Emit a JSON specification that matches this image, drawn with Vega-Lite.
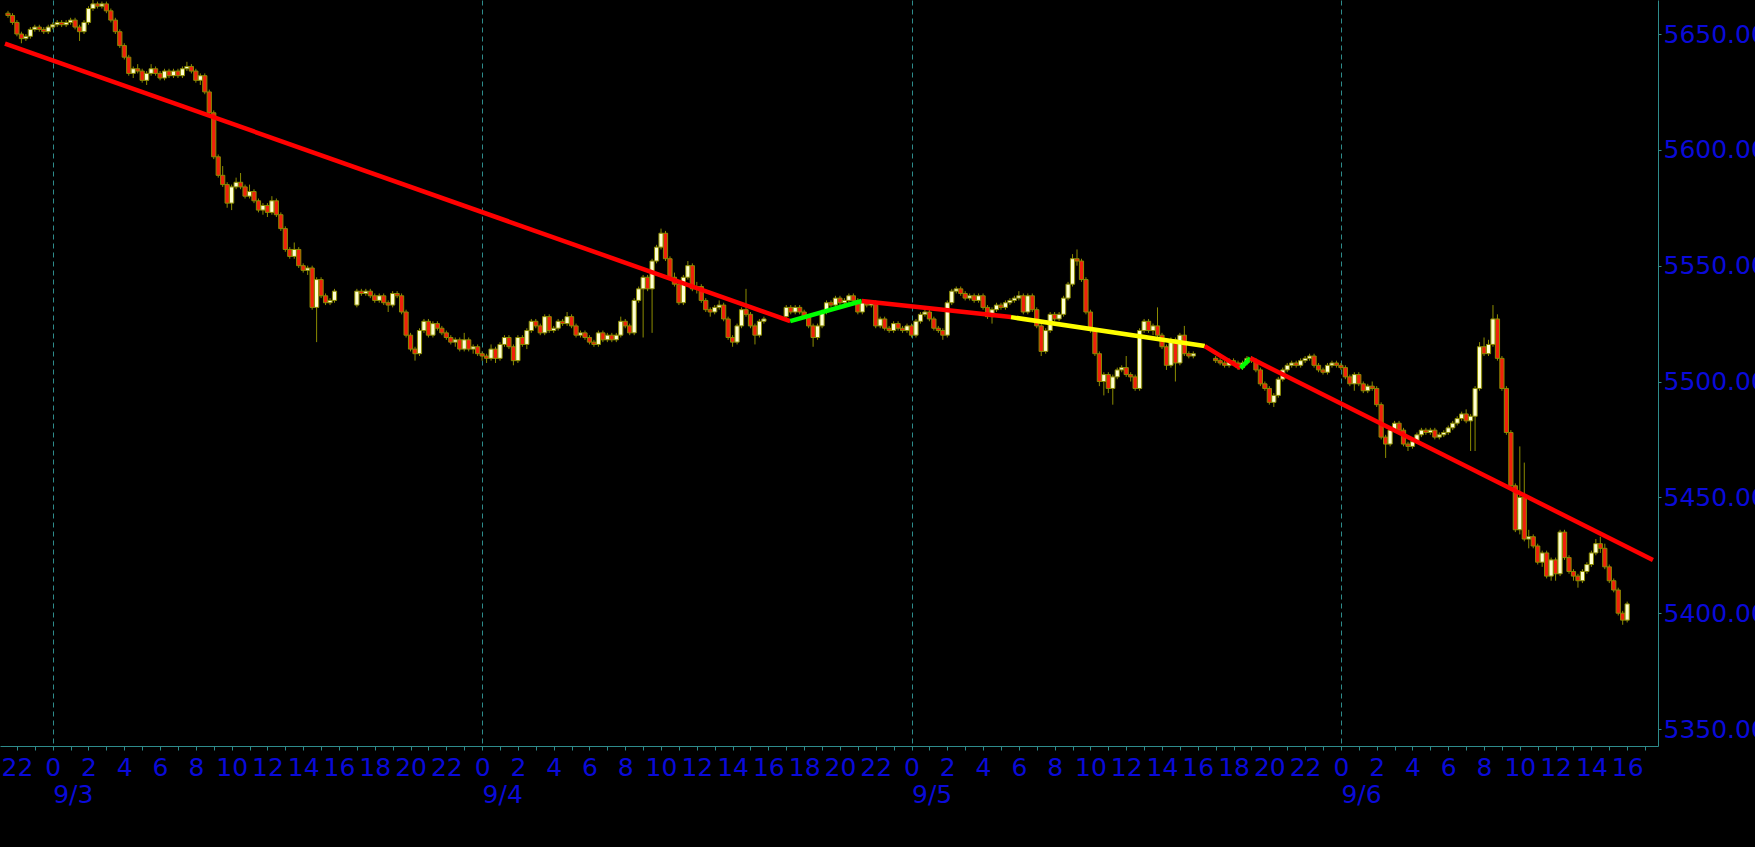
{
  "$schema": "https://vega.github.io/schema/vega-lite/v6.json",
  "width": 1658,
  "height": 746,
  "autosize": {"type": "none"},
  "padding": {"left": 0, "top": 0, "right": 97, "bottom": 101},
  "background": "#000000",
  "config": {"view": {"stroke": null}},
  "datasets": {
    "candles": [
      {"t":-2.5,"o":5659,"h":5660,"l":5657,"c":5658},
      {"t":-2.25,"o":5658,"h":5659,"l":5654,"c":5655},
      {"t":-2,"o":5655,"h":5656,"l":5649,"c":5650},
      {"t":-1.75,"o":5650,"h":5651,"l":5646,"c":5648},
      {"t":-1.5,"o":5648,"h":5650,"l":5647,"c":5649},
      {"t":-1.25,"o":5649,"h":5653,"l":5648,"c":5652},
      {"t":-1,"o":5652,"h":5654,"l":5651,"c":5653},
      {"t":-0.75,"o":5653,"h":5654,"l":5651,"c":5652},
      {"t":-0.5,"o":5652,"h":5653,"l":5650,"c":5651},
      {"t":-0.25,"o":5651,"h":5654,"l":5650,"c":5653},
      {"t":0,"o":5653,"h":5655,"l":5652,"c":5654},
      {"t":0.25,"o":5654,"h":5656,"l":5653,"c":5655},
      {"t":0.5,"o":5655,"h":5656,"l":5653,"c":5654},
      {"t":0.75,"o":5654,"h":5656,"l":5653,"c":5655},
      {"t":1,"o":5655,"h":5657,"l":5654,"c":5656},
      {"t":1.25,"o":5656,"h":5657,"l":5652,"c":5653},
      {"t":1.5,"o":5653,"h":5654,"l":5647,"c":5651},
      {"t":1.75,"o":5651,"h":5656,"l":5650,"c":5655},
      {"t":2,"o":5655,"h":5662,"l":5654,"c":5661},
      {"t":2.25,"o":5661,"h":5665,"l":5660,"c":5663},
      {"t":2.5,"o":5663,"h":5664,"l":5661,"c":5662},
      {"t":2.75,"o":5662,"h":5664,"l":5661,"c":5663},
      {"t":3,"o":5663,"h":5664,"l":5659,"c":5660},
      {"t":3.25,"o":5660,"h":5661,"l":5655,"c":5656},
      {"t":3.5,"o":5656,"h":5657,"l":5650,"c":5651},
      {"t":3.75,"o":5651,"h":5652,"l":5644,"c":5645},
      {"t":4,"o":5645,"h":5646,"l":5639,"c":5640},
      {"t":4.25,"o":5640,"h":5641,"l":5632,"c":5633},
      {"t":4.5,"o":5633,"h":5636,"l":5631,"c":5635},
      {"t":4.75,"o":5635,"h":5637,"l":5633,"c":5634},
      {"t":5,"o":5634,"h":5635,"l":5629,"c":5630},
      {"t":5.25,"o":5630,"h":5634,"l":5628,"c":5633},
      {"t":5.5,"o":5633,"h":5637,"l":5632,"c":5635},
      {"t":5.75,"o":5635,"h":5636,"l":5632,"c":5633},
      {"t":6,"o":5633,"h":5634,"l":5630,"c":5631},
      {"t":6.25,"o":5631,"h":5635,"l":5630,"c":5634},
      {"t":6.5,"o":5634,"h":5635,"l":5631,"c":5632},
      {"t":6.75,"o":5632,"h":5635,"l":5631,"c":5634},
      {"t":7,"o":5634,"h":5635,"l":5631,"c":5632},
      {"t":7.25,"o":5632,"h":5636,"l":5631,"c":5635},
      {"t":7.5,"o":5635,"h":5638,"l":5634,"c":5636},
      {"t":7.75,"o":5636,"h":5637,"l":5633,"c":5634},
      {"t":8,"o":5634,"h":5635,"l":5629,"c":5630},
      {"t":8.25,"o":5630,"h":5633,"l":5628,"c":5632},
      {"t":8.5,"o":5632,"h":5633,"l":5624,"c":5625},
      {"t":8.75,"o":5625,"h":5626,"l":5615,"c":5616},
      {"t":9,"o":5616,"h":5617,"l":5596,"c":5597},
      {"t":9.25,"o":5597,"h":5598,"l":5588,"c":5589},
      {"t":9.5,"o":5589,"h":5593,"l":5584,"c":5585},
      {"t":9.75,"o":5585,"h":5586,"l":5575,"c":5577},
      {"t":10,"o":5577,"h":5585,"l":5574,"c":5584},
      {"t":10.25,"o":5584,"h":5588,"l":5583,"c":5586},
      {"t":10.5,"o":5586,"h":5590,"l":5583,"c":5584},
      {"t":10.75,"o":5584,"h":5585,"l":5579,"c":5580},
      {"t":11,"o":5580,"h":5585,"l":5579,"c":5582},
      {"t":11.25,"o":5582,"h":5583,"l":5577,"c":5578},
      {"t":11.5,"o":5578,"h":5579,"l":5573,"c":5574},
      {"t":11.75,"o":5574,"h":5577,"l":5572,"c":5576},
      {"t":12,"o":5576,"h":5577,"l":5571,"c":5573},
      {"t":12.25,"o":5573,"h":5580,"l":5572,"c":5578},
      {"t":12.5,"o":5578,"h":5579,"l":5571,"c":5572},
      {"t":12.75,"o":5572,"h":5573,"l":5565,"c":5566},
      {"t":13,"o":5566,"h":5567,"l":5556,"c":5557},
      {"t":13.25,"o":5557,"h":5558,"l":5553,"c":5554},
      {"t":13.5,"o":5554,"h":5560,"l":5553,"c":5557},
      {"t":13.75,"o":5557,"h":5558,"l":5549,"c":5550},
      {"t":14,"o":5550,"h":5551,"l":5547,"c":5548},
      {"t":14.25,"o":5548,"h":5550,"l":5546,"c":5549},
      {"t":14.5,"o":5549,"h":5550,"l":5531,"c":5532},
      {"t":14.75,"o":5532,"h":5545,"l":5517,"c":5544},
      {"t":15,"o":5544,"h":5545,"l":5536,"c":5537},
      {"t":15.25,"o":5537,"h":5538,"l":5533,"c":5534},
      {"t":15.5,"o":5534,"h":5536,"l":5533,"c":5535},
      {"t":15.75,"o":5535,"h":5540,"l":5534,"c":5539},
      {"t":17,"o":5533,"h":5540,"l":5532,"c":5539},
      {"t":17.25,"o":5539,"h":5540,"l":5537,"c":5538},
      {"t":17.5,"o":5538,"h":5540,"l":5537,"c":5539},
      {"t":17.75,"o":5539,"h":5540,"l":5536,"c":5537},
      {"t":18,"o":5537,"h":5538,"l":5534,"c":5535},
      {"t":18.25,"o":5535,"h":5538,"l":5534,"c":5537},
      {"t":18.5,"o":5537,"h":5538,"l":5533,"c":5534},
      {"t":18.75,"o":5534,"h":5535,"l":5530,"c":5533},
      {"t":19,"o":5533,"h":5539,"l":5532,"c":5538},
      {"t":19.25,"o":5538,"h":5539,"l":5536,"c":5537},
      {"t":19.5,"o":5537,"h":5538,"l":5529,"c":5530},
      {"t":19.75,"o":5530,"h":5531,"l":5519,"c":5520},
      {"t":20,"o":5520,"h":5521,"l":5513,"c":5514},
      {"t":20.25,"o":5514,"h":5515,"l":5509,"c":5512},
      {"t":20.5,"o":5512,"h":5523,"l":5511,"c":5522},
      {"t":20.75,"o":5522,"h":5527,"l":5521,"c":5526},
      {"t":21,"o":5526,"h":5527,"l":5519,"c":5520},
      {"t":21.25,"o":5520,"h":5526,"l":5519,"c":5525},
      {"t":21.5,"o":5525,"h":5526,"l":5522,"c":5523},
      {"t":21.75,"o":5523,"h":5524,"l":5520,"c":5521},
      {"t":22,"o":5521,"h":5522,"l":5518,"c":5519},
      {"t":22.25,"o":5519,"h":5520,"l":5516,"c":5517},
      {"t":22.5,"o":5517,"h":5519,"l":5515,"c":5518},
      {"t":22.75,"o":5518,"h":5519,"l":5513,"c":5514},
      {"t":23,"o":5514,"h":5521,"l":5513,"c":5518},
      {"t":23.25,"o":5518,"h":5519,"l":5513,"c":5514},
      {"t":23.5,"o":5514,"h":5516,"l":5512,"c":5515},
      {"t":23.75,"o":5515,"h":5516,"l":5511,"c":5512},
      {"t":24,"o":5512,"h":5513,"l":5509,"c":5511},
      {"t":24.25,"o":5511,"h":5512,"l":5508,"c":5510},
      {"t":24.5,"o":5510,"h":5516,"l":5509,"c":5514},
      {"t":24.75,"o":5514,"h":5515,"l":5508,"c":5510},
      {"t":25,"o":5510,"h":5517,"l":5509,"c":5516},
      {"t":25.25,"o":5516,"h":5520,"l":5515,"c":5519},
      {"t":25.5,"o":5519,"h":5520,"l":5514,"c":5515},
      {"t":25.75,"o":5515,"h":5516,"l":5507,"c":5509},
      {"t":26,"o":5509,"h":5520,"l":5508,"c":5519},
      {"t":26.25,"o":5519,"h":5520,"l":5515,"c":5516},
      {"t":26.5,"o":5516,"h":5523,"l":5514,"c":5522},
      {"t":26.75,"o":5522,"h":5527,"l":5521,"c":5526},
      {"t":27,"o":5526,"h":5527,"l":5523,"c":5524},
      {"t":27.25,"o":5524,"h":5525,"l":5520,"c":5521},
      {"t":27.5,"o":5521,"h":5529,"l":5520,"c":5528},
      {"t":27.75,"o":5528,"h":5529,"l":5521,"c":5522},
      {"t":28,"o":5522,"h":5524,"l":5521,"c":5523},
      {"t":28.25,"o":5523,"h":5527,"l":5522,"c":5526},
      {"t":28.5,"o":5526,"h":5527,"l":5524,"c":5525},
      {"t":28.75,"o":5525,"h":5530,"l":5524,"c":5528},
      {"t":29,"o":5528,"h":5529,"l":5523,"c":5524},
      {"t":29.25,"o":5524,"h":5525,"l":5519,"c":5520},
      {"t":29.5,"o":5520,"h":5522,"l":5519,"c":5521},
      {"t":29.75,"o":5521,"h":5522,"l":5518,"c":5519},
      {"t":30,"o":5519,"h":5520,"l":5516,"c":5517},
      {"t":30.25,"o":5517,"h":5518,"l":5515,"c":5516},
      {"t":30.5,"o":5516,"h":5522,"l":5515,"c":5521},
      {"t":30.75,"o":5521,"h":5522,"l":5517,"c":5518},
      {"t":31,"o":5518,"h":5521,"l":5517,"c":5520},
      {"t":31.25,"o":5520,"h":5521,"l":5517,"c":5518},
      {"t":31.5,"o":5518,"h":5521,"l":5517,"c":5520},
      {"t":31.75,"o":5520,"h":5528,"l":5519,"c":5526},
      {"t":32,"o":5526,"h":5527,"l":5523,"c":5524},
      {"t":32.25,"o":5524,"h":5525,"l":5520,"c":5521},
      {"t":32.5,"o":5521,"h":5536,"l":5520,"c":5535},
      {"t":32.75,"o":5535,"h":5541,"l":5534,"c":5540},
      {"t":33,"o":5540,"h":5546,"l":5519,"c":5545},
      {"t":33.25,"o":5545,"h":5546,"l":5539,"c":5540},
      {"t":33.5,"o":5540,"h":5553,"l":5521,"c":5552},
      {"t":33.75,"o":5552,"h":5559,"l":5551,"c":5558},
      {"t":34,"o":5558,"h":5566,"l":5557,"c":5564},
      {"t":34.25,"o":5564,"h":5565,"l":5552,"c":5553},
      {"t":34.5,"o":5553,"h":5554,"l":5544,"c":5545},
      {"t":34.75,"o":5545,"h":5547,"l":5541,"c":5542},
      {"t":35,"o":5542,"h":5543,"l":5533,"c":5534},
      {"t":35.25,"o":5534,"h":5546,"l":5533,"c":5545},
      {"t":35.5,"o":5545,"h":5552,"l":5544,"c":5550},
      {"t":35.75,"o":5550,"h":5551,"l":5539,"c":5540},
      {"t":36,"o":5540,"h":5543,"l":5538,"c":5541},
      {"t":36.25,"o":5541,"h":5542,"l":5534,"c":5535},
      {"t":36.5,"o":5535,"h":5536,"l":5530,"c":5531},
      {"t":36.75,"o":5531,"h":5532,"l":5528,"c":5530},
      {"t":37,"o":5530,"h":5533,"l":5529,"c":5532},
      {"t":37.25,"o":5532,"h":5535,"l":5531,"c":5533},
      {"t":37.5,"o":5533,"h":5534,"l":5526,"c":5527},
      {"t":37.75,"o":5527,"h":5528,"l":5518,"c":5519},
      {"t":38,"o":5519,"h":5520,"l":5515,"c":5517},
      {"t":38.25,"o":5517,"h":5525,"l":5516,"c":5524},
      {"t":38.5,"o":5524,"h":5532,"l":5523,"c":5531},
      {"t":38.75,"o":5531,"h":5540,"l":5528,"c":5529},
      {"t":39,"o":5529,"h":5530,"l":5523,"c":5524},
      {"t":39.25,"o":5524,"h":5525,"l":5516,"c":5520},
      {"t":39.5,"o":5520,"h":5527,"l":5519,"c":5526},
      {"t":39.75,"o":5526,"h":5528,"l":5525,"c":5527},
      {"t":41,"o":5528,"h":5533,"l":5527,"c":5532},
      {"t":41.25,"o":5532,"h":5533,"l":5529,"c":5530},
      {"t":41.5,"o":5530,"h":5533,"l":5529,"c":5532},
      {"t":41.75,"o":5532,"h":5533,"l":5529,"c":5530},
      {"t":42,"o":5530,"h":5531,"l":5527,"c":5528},
      {"t":42.25,"o":5528,"h":5529,"l":5523,"c":5524},
      {"t":42.5,"o":5524,"h":5525,"l":5515,"c":5519},
      {"t":42.75,"o":5519,"h":5525,"l":5518,"c":5524},
      {"t":43,"o":5524,"h":5531,"l":5523,"c":5530},
      {"t":43.25,"o":5530,"h":5535,"l":5529,"c":5534},
      {"t":43.5,"o":5534,"h":5535,"l":5532,"c":5533},
      {"t":43.75,"o":5533,"h":5537,"l":5532,"c":5536},
      {"t":44,"o":5536,"h":5537,"l":5533,"c":5534},
      {"t":44.25,"o":5534,"h":5536,"l":5533,"c":5535},
      {"t":44.5,"o":5535,"h":5538,"l":5534,"c":5537},
      {"t":44.75,"o":5537,"h":5538,"l":5534,"c":5535},
      {"t":45,"o":5535,"h":5536,"l":5529,"c":5530},
      {"t":45.25,"o":5530,"h":5535,"l":5529,"c":5534},
      {"t":45.5,"o":5534,"h":5535,"l":5532,"c":5533},
      {"t":45.75,"o":5533,"h":5535,"l":5532,"c":5534},
      {"t":46,"o":5534,"h":5535,"l":5523,"c":5524},
      {"t":46.25,"o":5524,"h":5528,"l":5523,"c":5527},
      {"t":46.5,"o":5527,"h":5528,"l":5522,"c":5523},
      {"t":46.75,"o":5523,"h":5524,"l":5521,"c":5522},
      {"t":47,"o":5522,"h":5526,"l":5521,"c":5525},
      {"t":47.25,"o":5525,"h":5526,"l":5522,"c":5523},
      {"t":47.5,"o":5523,"h":5524,"l":5521,"c":5522},
      {"t":47.75,"o":5522,"h":5525,"l":5521,"c":5524},
      {"t":48,"o":5524,"h":5525,"l":5519,"c":5520},
      {"t":48.25,"o":5520,"h":5527,"l":5519,"c":5526},
      {"t":48.5,"o":5526,"h":5530,"l":5525,"c":5529},
      {"t":48.75,"o":5529,"h":5531,"l":5528,"c":5530},
      {"t":49,"o":5530,"h":5531,"l":5526,"c":5527},
      {"t":49.25,"o":5527,"h":5528,"l":5522,"c":5523},
      {"t":49.5,"o":5523,"h":5524,"l":5521,"c":5522},
      {"t":49.75,"o":5522,"h":5523,"l":5518,"c":5520},
      {"t":50,"o":5520,"h":5535,"l":5519,"c":5534},
      {"t":50.25,"o":5534,"h":5540,"l":5533,"c":5539},
      {"t":50.5,"o":5539,"h":5541,"l":5538,"c":5540},
      {"t":50.75,"o":5540,"h":5541,"l":5537,"c":5538},
      {"t":51,"o":5538,"h":5539,"l":5535,"c":5536},
      {"t":51.25,"o":5536,"h":5538,"l":5535,"c":5537},
      {"t":51.5,"o":5537,"h":5538,"l":5534,"c":5535},
      {"t":51.75,"o":5535,"h":5538,"l":5534,"c":5537},
      {"t":52,"o":5537,"h":5538,"l":5531,"c":5532},
      {"t":52.25,"o":5532,"h":5533,"l":5527,"c":5528},
      {"t":52.5,"o":5528,"h":5532,"l":5525,"c":5531},
      {"t":52.75,"o":5531,"h":5534,"l":5530,"c":5533},
      {"t":53,"o":5533,"h":5534,"l":5531,"c":5532},
      {"t":53.25,"o":5532,"h":5535,"l":5531,"c":5534},
      {"t":53.5,"o":5534,"h":5536,"l":5533,"c":5535},
      {"t":53.75,"o":5535,"h":5537,"l":5534,"c":5536},
      {"t":54,"o":5536,"h":5539,"l":5535,"c":5537},
      {"t":54.25,"o":5537,"h":5538,"l":5529,"c":5530},
      {"t":54.5,"o":5530,"h":5538,"l":5529,"c":5537},
      {"t":54.75,"o":5537,"h":5538,"l":5530,"c":5531},
      {"t":55,"o":5531,"h":5532,"l":5523,"c":5524},
      {"t":55.25,"o":5524,"h":5525,"l":5511,"c":5513},
      {"t":55.5,"o":5513,"h":5523,"l":5512,"c":5522},
      {"t":55.75,"o":5522,"h":5530,"l":5521,"c":5529},
      {"t":56,"o":5529,"h":5530,"l":5526,"c":5527},
      {"t":56.25,"o":5527,"h":5530,"l":5526,"c":5529},
      {"t":56.5,"o":5529,"h":5537,"l":5528,"c":5536},
      {"t":56.75,"o":5536,"h":5543,"l":5535,"c":5542},
      {"t":57,"o":5542,"h":5555,"l":5541,"c":5553},
      {"t":57.25,"o":5553,"h":5557,"l":5550,"c":5552},
      {"t":57.5,"o":5552,"h":5553,"l":5543,"c":5544},
      {"t":57.75,"o":5544,"h":5545,"l":5529,"c":5530},
      {"t":58,"o":5530,"h":5531,"l":5521,"c":5522},
      {"t":58.25,"o":5522,"h":5523,"l":5511,"c":5512},
      {"t":58.5,"o":5512,"h":5513,"l":5498,"c":5500},
      {"t":58.75,"o":5500,"h":5504,"l":5494,"c":5503},
      {"t":59,"o":5503,"h":5504,"l":5495,"c":5497},
      {"t":59.25,"o":5497,"h":5503,"l":5490,"c":5502},
      {"t":59.5,"o":5502,"h":5506,"l":5501,"c":5505},
      {"t":59.75,"o":5505,"h":5507,"l":5504,"c":5506},
      {"t":60,"o":5506,"h":5511,"l":5502,"c":5503},
      {"t":60.25,"o":5503,"h":5504,"l":5500,"c":5502},
      {"t":60.5,"o":5502,"h":5503,"l":5496,"c":5497},
      {"t":60.75,"o":5497,"h":5523,"l":5496,"c":5522},
      {"t":61,"o":5522,"h":5527,"l":5521,"c":5526},
      {"t":61.25,"o":5526,"h":5527,"l":5521,"c":5522},
      {"t":61.5,"o":5522,"h":5525,"l":5520,"c":5524},
      {"t":61.75,"o":5524,"h":5532,"l":5519,"c":5520},
      {"t":62,"o":5520,"h":5521,"l":5514,"c":5515},
      {"t":62.25,"o":5515,"h":5516,"l":5505,"c":5507},
      {"t":62.5,"o":5507,"h":5519,"l":5506,"c":5518},
      {"t":62.75,"o":5518,"h":5519,"l":5500,"c":5508},
      {"t":63,"o":5508,"h":5521,"l":5507,"c":5520},
      {"t":63.25,"o":5520,"h":5524,"l":5511,"c":5512},
      {"t":63.5,"o":5512,"h":5513,"l":5510,"c":5511},
      {"t":63.75,"o":5511,"h":5513,"l":5510,"c":5512},
      {"t":65,"o":5510,"h":5511,"l":5508,"c":5509},
      {"t":65.25,"o":5509,"h":5510,"l":5507,"c":5508},
      {"t":65.5,"o":5508,"h":5509,"l":5506,"c":5507},
      {"t":65.75,"o":5507,"h":5510,"l":5506,"c":5509},
      {"t":66,"o":5509,"h":5510,"l":5507,"c":5508},
      {"t":66.25,"o":5508,"h":5509,"l":5505,"c":5506},
      {"t":66.5,"o":5506,"h":5509,"l":5505,"c":5508},
      {"t":66.75,"o":5508,"h":5511,"l":5507,"c":5510},
      {"t":67,"o":5510,"h":5511,"l":5508,"c":5509},
      {"t":67.25,"o":5509,"h":5510,"l":5504,"c":5505},
      {"t":67.5,"o":5505,"h":5506,"l":5498,"c":5499},
      {"t":67.75,"o":5499,"h":5500,"l":5496,"c":5497},
      {"t":68,"o":5497,"h":5498,"l":5490,"c":5491},
      {"t":68.25,"o":5491,"h":5495,"l":5489,"c":5494},
      {"t":68.5,"o":5494,"h":5502,"l":5493,"c":5501},
      {"t":68.75,"o":5501,"h":5506,"l":5500,"c":5505},
      {"t":69,"o":5505,"h":5508,"l":5504,"c":5507},
      {"t":69.25,"o":5507,"h":5509,"l":5506,"c":5508},
      {"t":69.5,"o":5508,"h":5509,"l":5506,"c":5507},
      {"t":69.75,"o":5507,"h":5510,"l":5506,"c":5509},
      {"t":70,"o":5509,"h":5511,"l":5508,"c":5510},
      {"t":70.25,"o":5510,"h":5512,"l":5509,"c":5511},
      {"t":70.5,"o":5511,"h":5512,"l":5506,"c":5507},
      {"t":70.75,"o":5507,"h":5508,"l":5504,"c":5505},
      {"t":71,"o":5505,"h":5506,"l":5503,"c":5504},
      {"t":71.25,"o":5504,"h":5508,"l":5503,"c":5507},
      {"t":71.5,"o":5507,"h":5509,"l":5506,"c":5508},
      {"t":71.75,"o":5508,"h":5509,"l":5506,"c":5507},
      {"t":72,"o":5507,"h":5508,"l":5505,"c":5506},
      {"t":72.25,"o":5506,"h":5507,"l":5501,"c":5502},
      {"t":72.5,"o":5502,"h":5503,"l":5498,"c":5499},
      {"t":72.75,"o":5499,"h":5504,"l":5496,"c":5503},
      {"t":73,"o":5503,"h":5504,"l":5498,"c":5499},
      {"t":73.25,"o":5499,"h":5500,"l":5495,"c":5496},
      {"t":73.5,"o":5496,"h":5499,"l":5495,"c":5498},
      {"t":73.75,"o":5498,"h":5500,"l":5496,"c":5497},
      {"t":74,"o":5497,"h":5498,"l":5489,"c":5490},
      {"t":74.25,"o":5490,"h":5491,"l":5475,"c":5476},
      {"t":74.5,"o":5476,"h":5477,"l":5467,"c":5473},
      {"t":74.75,"o":5473,"h":5480,"l":5472,"c":5479},
      {"t":75,"o":5479,"h":5483,"l":5478,"c":5482},
      {"t":75.25,"o":5482,"h":5483,"l":5478,"c":5479},
      {"t":75.5,"o":5479,"h":5480,"l":5472,"c":5473},
      {"t":75.75,"o":5473,"h":5474,"l":5470,"c":5472},
      {"t":76,"o":5472,"h":5475,"l":5471,"c":5474},
      {"t":76.25,"o":5474,"h":5478,"l":5473,"c":5477},
      {"t":76.5,"o":5477,"h":5480,"l":5476,"c":5479},
      {"t":76.75,"o":5479,"h":5480,"l":5477,"c":5478},
      {"t":77,"o":5478,"h":5480,"l":5477,"c":5479},
      {"t":77.25,"o":5479,"h":5480,"l":5475,"c":5476},
      {"t":77.5,"o":5476,"h":5478,"l":5475,"c":5477},
      {"t":77.75,"o":5477,"h":5479,"l":5476,"c":5478},
      {"t":78,"o":5478,"h":5481,"l":5477,"c":5480},
      {"t":78.25,"o":5480,"h":5483,"l":5479,"c":5482},
      {"t":78.5,"o":5482,"h":5485,"l":5481,"c":5484},
      {"t":78.75,"o":5484,"h":5487,"l":5483,"c":5486},
      {"t":79,"o":5486,"h":5488,"l":5482,"c":5483},
      {"t":79.25,"o":5483,"h":5486,"l":5470,"c":5485},
      {"t":79.5,"o":5485,"h":5498,"l":5470,"c":5497},
      {"t":79.75,"o":5497,"h":5517,"l":5496,"c":5515},
      {"t":80,"o":5515,"h":5519,"l":5511,"c":5512},
      {"t":80.25,"o":5512,"h":5518,"l":5511,"c":5516},
      {"t":80.5,"o":5516,"h":5533,"l":5515,"c":5527},
      {"t":80.75,"o":5527,"h":5529,"l":5509,"c":5510},
      {"t":81,"o":5510,"h":5511,"l":5496,"c":5497},
      {"t":81.25,"o":5497,"h":5498,"l":5477,"c":5478},
      {"t":81.5,"o":5478,"h":5479,"l":5454,"c":5455},
      {"t":81.75,"o":5455,"h":5456,"l":5435,"c":5436},
      {"t":82,"o":5436,"h":5472,"l":5434,"c":5450},
      {"t":82.25,"o":5450,"h":5465,"l":5431,"c":5432},
      {"t":82.5,"o":5432,"h":5436,"l":5428,"c":5433},
      {"t":82.75,"o":5433,"h":5434,"l":5428,"c":5429},
      {"t":83,"o":5429,"h":5430,"l":5421,"c":5422},
      {"t":83.25,"o":5422,"h":5427,"l":5420,"c":5426},
      {"t":83.5,"o":5426,"h":5427,"l":5415,"c":5416},
      {"t":83.75,"o":5416,"h":5424,"l":5414,"c":5423},
      {"t":84,"o":5423,"h":5424,"l":5414,"c":5417},
      {"t":84.25,"o":5417,"h":5436,"l":5416,"c":5435},
      {"t":84.5,"o":5435,"h":5436,"l":5423,"c":5424},
      {"t":84.75,"o":5424,"h":5425,"l":5417,"c":5418},
      {"t":85,"o":5418,"h":5419,"l":5414,"c":5416},
      {"t":85.25,"o":5416,"h":5417,"l":5411,"c":5414},
      {"t":85.5,"o":5414,"h":5419,"l":5413,"c":5418},
      {"t":85.75,"o":5418,"h":5422,"l":5417,"c":5421},
      {"t":86,"o":5421,"h":5427,"l":5420,"c":5426},
      {"t":86.25,"o":5426,"h":5432,"l":5425,"c":5430},
      {"t":86.5,"o":5430,"h":5433,"l":5426,"c":5428},
      {"t":86.75,"o":5428,"h":5430,"l":5419,"c":5420},
      {"t":87,"o":5420,"h":5421,"l":5413,"c":5414},
      {"t":87.25,"o":5414,"h":5415,"l":5409,"c":5410},
      {"t":87.5,"o":5410,"h":5411,"l":5399,"c":5400},
      {"t":87.75,"o":5400,"h":5401,"l":5395,"c":5397},
      {"t":88,"o":5397,"h":5405,"l":5396,"c":5404}
    ],
    "trend": [
      {"seg":1,"trend":"down","t":-2.667,"v":5645.9},
      {"seg":1,"trend":"down","t":41.22,"v":5526.1},
      {"seg":2,"trend":"up","t":41.22,"v":5526.1},
      {"seg":2,"trend":"up","t":45.22,"v":5534.75},
      {"seg":3,"trend":"down","t":45.22,"v":5534.75},
      {"seg":3,"trend":"down","t":53.56,"v":5527.8},
      {"seg":4,"trend":"flat","t":53.56,"v":5527.8},
      {"seg":4,"trend":"flat","t":64.39,"v":5515.3},
      {"seg":5,"trend":"down","t":64.39,"v":5515.3},
      {"seg":5,"trend":"down","t":66.39,"v":5505.8},
      {"seg":6,"trend":"up","t":66.39,"v":5505.8},
      {"seg":6,"trend":"up","t":66.94,"v":5510.1},
      {"seg":7,"trend":"down","t":66.94,"v":5510.1},
      {"seg":7,"trend":"down","t":89.44,"v":5423.0}
    ]
  },
  "resolve": {"axis": {"x": "independent", "y": "independent"}},
  "layer": [
    {
      "data": {"name": "candles"},
      "mark": {"type": "rule", "color": "#8C8C00", "strokeWidth": 1},
      "encoding": {
        "x": {
          "field": "t", "type": "quantitative",
          "scale": {"domain": [-2.667, 89.444], "nice": false, "zero": false},
          "axis": {
            "orient": "bottom", "title": null,
            "values": [-2,0,2,4,6,8,10,12,14,16,18,20,22,24,26,28,30,32,34,36,38,40,42,44,46,48,50,52,54,56,58,60,62,64,66,68,70,72,74,76,78,80,82,84,86,88],
            "labelExpr": "((datum.value % 24) + 24) % 24",
            "ticks": false, "tickSize": 0, "grid": false,
            "domain": true, "domainColor": "#2E8B8B", "domainWidth": 1,
            "labelColor": "#0A0AD8", "labelFont": "DejaVu Sans", "labelFontSize": 25,
            "labelPadding": 9, "labelFlush": false, "labelOverlap": false, "labelBound": false
          }
        },
        "y": {
          "field": "l", "type": "quantitative",
          "scale": {"domain": [5342.67, 5664.68], "nice": false, "zero": false},
          "axis": {
            "orient": "right", "title": null,
            "values": [5350, 5400, 5450, 5500, 5550, 5600, 5650],
            "format": ".2f", "grid": false,
            "domain": true, "domainColor": "#2E8B8B", "domainWidth": 1,
            "ticks": true, "tickSize": 3, "tickColor": "#2E8B8B",
            "labelColor": "#0A0AD8", "labelFont": "DejaVu Sans", "labelFontSize": 25,
            "labelPadding": 2, "labelFlush": false, "labelOverlap": false, "labelBound": false
          }
        },
        "y2": {"field": "h"}
      }
    },
    {
      "data": {"name": "candles"},
      "mark": {"type": "bar", "width": 4.2, "stroke": "#8C8C00", "strokeWidth": 1},
      "encoding": {
        "x": {
          "field": "t", "type": "quantitative",
          "scale": {"domain": [-2.667, 89.444], "nice": false, "zero": false},
          "axis": {
            "orient": "bottom", "title": null,
            "values": [-2,-1,0,1,2,3,4,5,6,7,8,9,10,11,12,13,14,15,16,17,18,19,20,21,22,23,24,25,26,27,28,29,30,31,32,33,34,35,36,37,38,39,40,41,42,43,44,45,46,47,48,49,50,51,52,53,54,55,56,57,58,59,60,61,62,63,64,65,66,67,68,69,70,71,72,73,74,75,76,77,78,79,80,81,82,83,84,85,86,87,88,89],
            "labels": false, "domain": false, "grid": false,
            "ticks": true, "tickSize": 4, "tickColor": "#2E8B8B", "tickWidth": 1
          }
        },
        "y": {
          "field": "o", "type": "quantitative",
          "scale": {"domain": [5342.67, 5664.68], "nice": false, "zero": false},
          "axis": null
        },
        "y2": {"field": "c"},
        "color": {
          "condition": {"test": "datum.c >= datum.o", "value": "#FFFFD2"},
          "value": "#F0200C"
        }
      }
    },
    {
      "data": {"name": "trend"},
      "mark": {"type": "line", "strokeWidth": 4.5, "clip": true},
      "encoding": {
        "x": {
          "field": "t", "type": "quantitative",
          "scale": {"domain": [-2.667, 89.444], "nice": false, "zero": false},
          "axis": {
            "orient": "bottom", "title": null,
            "values": [0, 24, 48, 72],
            "labelExpr": "'9/' + (3 + datum.value / 24)",
            "labelAlign": "left",
            "ticks": false, "tickSize": 0, "domain": false,
            "grid": true, "gridColor": "#2E8B8B", "gridDash": [5, 4], "gridWidth": 1,
            "labelColor": "#0A0AD8", "labelFont": "DejaVu Sans", "labelFontSize": 25,
            "labelPadding": 36, "labelFlush": false, "labelOverlap": false, "labelBound": false
          }
        },
        "y": {
          "field": "v", "type": "quantitative",
          "scale": {"domain": [5342.67, 5664.68], "nice": false, "zero": false},
          "axis": null
        },
        "detail": {"field": "seg"},
        "order": {"field": "t"},
        "color": {
          "field": "trend", "type": "nominal",
          "scale": {"domain": ["down", "up", "flat"], "range": ["#FF0000", "#00FF00", "#FFFF00"]},
          "legend": null
        }
      }
    }
  ]
}
